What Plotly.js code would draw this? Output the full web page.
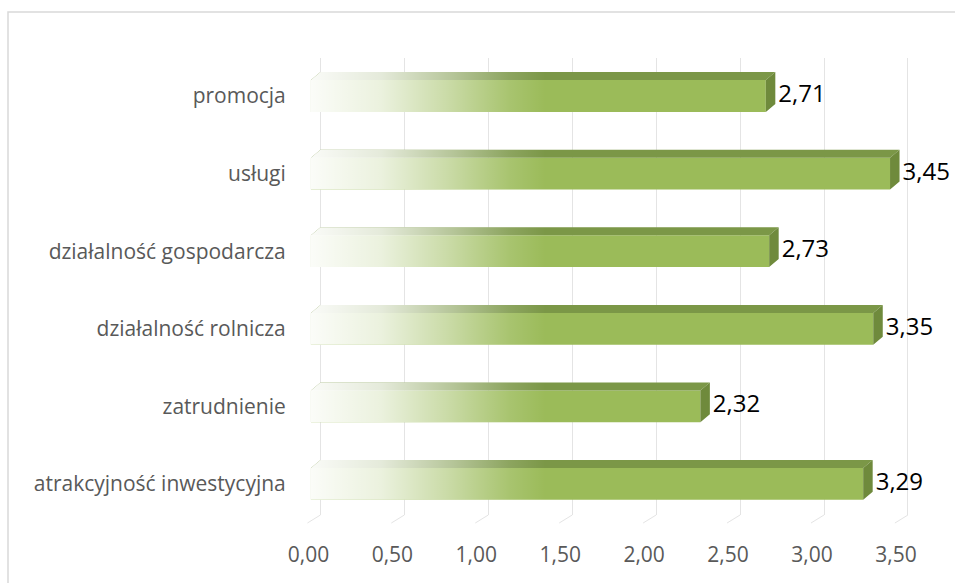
<!DOCTYPE html>
<html>
<head>
<meta charset="utf-8">
<script src="https://cdn.plot.ly/plotly-3.0.1.min.js"></script>
<style>html,body{margin:0;padding:0;background:#fff;}#chart{width:955px;height:583px;}</style>
</head>
<body>
<div id="chart"></div>
<script>
// ---- data (top to bottom as in the chart) ----
var categories = ["promocja", "usługi", "działalność gospodarcza", "działalność rolnicza", "zatrudnienie", "atrakcyjność inwestycyjna"];
var values = [2.71, 3.45, 2.73, 3.35, 2.32, 3.29];
var tickValues = [0, 0.5, 1, 1.5, 2, 2.5, 3, 3.5];
var tickLabels = ["0,00", "0,50", "1,00", "1,50", "2,00", "2,50", "3,00", "3,50"];

// ---- geometry / style ----
var W = 955, H = 583, ML = 307, MR = 37, MT = 58, MB = 68;
var xRange = [-0.08, 3.56];
var yRange = [-0.40, 5.49];
var plotW = W - ML - MR, plotH = H - MT - MB;
var pxPerX = plotW / (xRange[1] - xRange[0]);
var pxPerY = plotH / (yRange[1] - yRange[0]);
var depthX = 9.5 / pxPerX;      // 3D depth, horizontal
var depthY = 8 / pxPerY;        // 3D depth, vertical
var halfH = 0.205;              // half height of the front face
var gradEnd = 1.34;             // where the white fade ends
var labelGap = 3 / pxPerX;      // extra gap between bar and value label

var n = categories.length;
var ypos = categories.map(function (c, i) { return n - 1 - i; });
function fmt(v) { return v.toFixed(2).replace('.', ','); }

// front faces (bar trace)
var front = {
  type: 'bar', orientation: 'h',
  y: ypos, x: values,
  base: values.map(function () { return -depthX; }),
  width: 2 * halfH,
  marker: { color: '#9BBB59', line: { width: 0 } },
  hoverinfo: 'skip', showlegend: false
};

// top and side faces built from the values
var topX = [], topY = [], sideX = [], sideY = [], fadeX = [], fadeY = [];
values.forEach(function (v, i) {
  var y = ypos[i];
  topX.push(-depthX, v - depthX, v, 0, -depthX, null);
  topY.push(y + halfH, y + halfH, y + halfH + depthY, y + halfH + depthY, y + halfH, null);
  sideX.push(v - depthX, v, v, v - depthX, v - depthX, null);
  sideY.push(y - halfH, y - halfH + depthY, y + halfH + depthY, y + halfH, y - halfH, null);
  var e = Math.min(v - depthX, gradEnd);
  fadeX.push(-depthX, -depthX, 0, e, e, -depthX, null);
  fadeY.push(y - halfH, y + halfH, y + halfH + depthY, y + halfH + depthY, y - halfH, y - halfH, null);
});

var topFace = {
  type: 'scatter', mode: 'lines', x: topX, y: topY, fill: 'toself',
  fillcolor: '#7B9747', line: { width: 0, color: 'rgba(0,0,0,0)' },
  hoverinfo: 'skip', showlegend: false
};
var sideFace = {
  type: 'scatter', mode: 'lines', x: sideX, y: sideY, fill: 'toself',
  fillcolor: '#6F8A3C', line: { width: 0, color: 'rgba(0,0,0,0)' },
  hoverinfo: 'skip', showlegend: false
};
var fade = {
  type: 'scatter', mode: 'lines', x: fadeX, y: fadeY, fill: 'toself',
  fillgradient: {
    type: 'horizontal', start: -depthX, stop: gradEnd,
    colorscale: [[0, 'rgba(255,255,255,0.96)'], [0.3, 'rgba(255,255,255,0.8)'],
                 [0.6, 'rgba(255,255,255,0.45)'], [0.85, 'rgba(255,255,255,0.13)'],
                 [1, 'rgba(255,255,255,0)']]
  },
  line: { width: 0, color: 'rgba(0,0,0,0)' },
  hoverinfo: 'skip', showlegend: false
};
var labels = {
  type: 'scatter', mode: 'text',
  x: values.map(function (v) { return v + labelGap; }), y: ypos,
  text: values.map(fmt), textposition: 'middle right',
  textfont: { family: 'Open Sans, sans-serif', size: 24, color: '#000000' },
  cliponaxis: false, hoverinfo: 'skip', showlegend: false
};

// floor diagonals of the gridlines + chart border
function px2paperX(px) { return (px - ML) / plotW; }
function px2paperY(py) { return (H - MB - py) / plotH; }
var shapes = tickValues.map(function (t) {
  return {
    type: 'line', xref: 'x', yref: 'paper', layer: 'below',
    x0: t, y0: 0, x1: t - 13 / pxPerX, y1: -8 / plotH,
    line: { color: '#E4E4E4', width: 1 }
  };
});
shapes.push({
  type: 'rect', xref: 'paper', yref: 'paper', layer: 'below',
  x0: px2paperX(8), x1: px2paperX(960), y0: px2paperY(592), y1: px2paperY(12),
  line: { color: '#D9D9D9', width: 1.5 }, fillcolor: 'rgba(0,0,0,0)'
});

var layout = {
  width: W, height: H,
  margin: { l: ML, r: MR, t: MT, b: MB, pad: 0 },
  paper_bgcolor: '#ffffff', plot_bgcolor: '#ffffff',
  showlegend: false, barmode: 'overlay',
  font: { family: 'Open Sans, sans-serif', color: '#595959' },
  xaxis: {
    range: xRange, tickvals: tickValues, ticktext: tickLabels,
    showgrid: true, gridcolor: '#E4E4E4', gridwidth: 1, zeroline: false,
    showline: false, ticks: 'outside', ticklen: 21, tickcolor: 'rgba(0,0,0,0)',
    ticklabelshift: -12,
    tickfont: { family: 'Open Sans, sans-serif', size: 21, color: '#595959' },
    fixedrange: true
  },
  yaxis: {
    range: yRange, tickvals: ypos, ticktext: categories,
    showgrid: false, zeroline: false, showline: false,
    ticks: 'outside', ticklen: 16, tickcolor: 'rgba(0,0,0,0)',
    tickfont: { family: 'Open Sans, sans-serif', size: 21, color: '#595959' },
    fixedrange: true
  },
  shapes: shapes
};

Plotly.newPlot('chart', [front, topFace, sideFace, fade, labels], layout, { displayModeBar: false, staticPlot: true });
</script>
</body>
</html>
